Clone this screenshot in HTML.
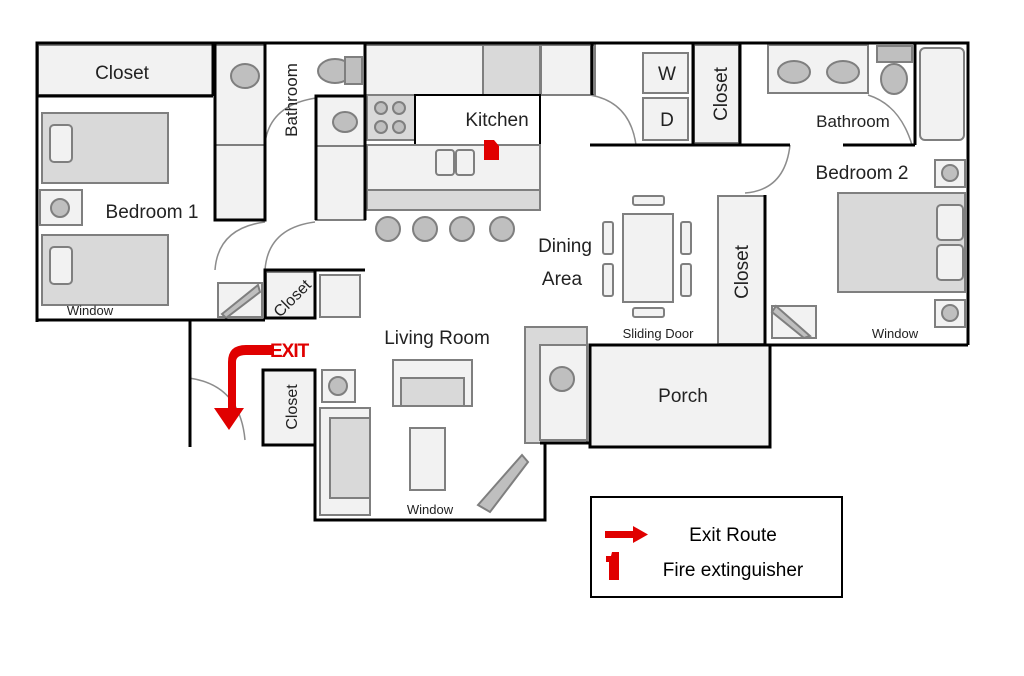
<!DOCTYPE html>
<html><head><meta charset="utf-8"><style>
body{margin:0;background:#fff;}
svg{display:block;font-family:"Liberation Sans",sans-serif;}
</style></head><body>
<svg width="1024" height="676" viewBox="0 0 1024 676" xmlns="http://www.w3.org/2000/svg">
<g stroke="#7f7f7f" stroke-width="2" fill="#f2f2f2">
 <!-- top-left closet -->
 <rect x="38" y="45" width="175" height="50"/>
 <!-- bathroom 1 -->
 <rect x="215" y="45" width="50" height="100"/>
 <rect x="215" y="145" width="50" height="75"/>
 <rect x="316" y="96" width="49" height="50"/>
 <rect x="316" y="146" width="49" height="74"/>
 <!-- kitchen -->
 <rect x="365" y="45" width="230" height="50"/>
 <rect x="483" y="45" width="57" height="50" fill="#d9d9d9"/>
 <rect x="541" y="45" width="50" height="50"/>
 <rect x="367" y="95" width="48" height="45" fill="#d9d9d9"/>
 <rect x="415" y="95" width="125" height="50" fill="#fff" stroke="#000"/>
 <rect x="367" y="145" width="173" height="45"/>
 <rect x="367" y="190" width="173" height="20" fill="#d9d9d9"/>
 <rect x="436" y="150" width="18" height="25" rx="3"/>
 <rect x="456" y="150" width="18" height="25" rx="3"/>
 <!-- W D closet -->
 <rect x="643" y="53" width="45" height="40"/>
 <rect x="643" y="98" width="45" height="42"/>
 <rect x="694" y="45" width="45" height="98"/>
 <!-- bathroom 2 -->
 <rect x="768" y="45" width="100" height="48"/>
 <rect x="877" y="46" width="35" height="16" fill="#bfbfbf"/>
 <rect x="920" y="48" width="44" height="92" rx="5"/>
 <!-- bedroom 2 -->
 <rect x="935" y="160" width="30" height="27"/>
 <rect x="838" y="193" width="127" height="99" fill="#d9d9d9"/>
 <rect x="937" y="205" width="26" height="35" rx="4"/>
 <rect x="937" y="245" width="26" height="35" rx="4"/>
 <rect x="935" y="300" width="30" height="27"/>
 <rect x="718" y="196" width="47" height="148"/>
 <rect x="772" y="306" width="44" height="32"/>
 <!-- dining -->
 <rect x="623" y="214" width="50" height="88"/>
 <rect x="633" y="196" width="31" height="9" rx="2"/>
 <rect x="633" y="308" width="31" height="9" rx="2"/>
 <rect x="603" y="222" width="10" height="32" rx="2"/>
 <rect x="603" y="264" width="10" height="32" rx="2"/>
 <rect x="681" y="222" width="10" height="32" rx="2"/>
 <rect x="681" y="264" width="10" height="32" rx="2"/>
 <!-- bedroom 1 -->
 <rect x="42" y="113" width="126" height="70" fill="#d9d9d9"/>
 <rect x="50" y="125" width="22" height="37" rx="4"/>
 <rect x="40" y="190" width="42" height="35"/>
 <rect x="42" y="235" width="126" height="70" fill="#d9d9d9"/>
 <rect x="50" y="247" width="22" height="37" rx="4"/>
 <rect x="218" y="283" width="44" height="34"/>
 <rect x="266" y="272" width="49" height="46"/>
 <rect x="320" y="275" width="40" height="42"/>
 <!-- living -->
 <rect x="263" y="370" width="52" height="75"/>
 <rect x="322" y="370" width="33" height="32"/>
 <rect x="393" y="360" width="79" height="46"/>
 <rect x="401" y="378" width="63" height="28" fill="#d9d9d9"/>
 <rect x="320" y="408" width="50" height="107"/>
 <rect x="330" y="418" width="40" height="80" fill="#d9d9d9"/>
 <rect x="410" y="428" width="35" height="62"/>
 <rect x="525" y="327" width="62" height="116" fill="#d9d9d9"/>
 <rect x="540" y="345" width="47" height="95"/>
 <!-- porch -->
 <rect x="590" y="345" width="180" height="102" stroke="#000" stroke-width="3"/>
</g>
<!-- circles/fixtures -->
<g fill="#bfbfbf" stroke="#7f7f7f" stroke-width="2">
 <circle cx="388" cy="229" r="12"/><circle cx="425" cy="229" r="12"/><circle cx="462" cy="229" r="12"/><circle cx="502" cy="229" r="12"/>
 <circle cx="381" cy="108" r="6"/><circle cx="399" cy="108" r="6"/><circle cx="381" cy="127" r="6"/><circle cx="399" cy="127" r="6"/>
 <circle cx="60" cy="208" r="9"/><circle cx="950" cy="173" r="8"/><circle cx="950" cy="313" r="8"/><circle cx="338" cy="386" r="9"/>
 <ellipse cx="245" cy="76" rx="14" ry="12"/><ellipse cx="335" cy="71" rx="17" ry="12"/>
 <rect x="345" y="57" width="17" height="27"/>
 <ellipse cx="345" cy="122" rx="12" ry="10"/>
 <ellipse cx="794" cy="72" rx="16" ry="11"/><ellipse cx="843" cy="72" rx="16" ry="11"/>
 <ellipse cx="894" cy="79" rx="13" ry="15"/>
 <circle cx="562" cy="379" r="12"/>
 <path d="M222 314 L258 285 L260 292 L226 318Z"/>
 <path d="M776 306 L810 336 L804 338 L772 312Z"/>
 <path d="M478 505 L522 455 L528 462 L490 512Z"/>
</g>
<!-- door arcs -->
<g fill="none" stroke="#8c8c8c" stroke-width="1.5">
 <path d="M265 143 Q270 105 316 98"/>
 <path d="M215 270 Q218 228 265 222"/>
 <path d="M265 270 Q268 228 315 222"/>
 <path d="M636 145 Q630 102 590 95"/>
 <path d="M790 145 Q785 190 745 193"/>
 <path d="M912 145 Q900 105 868 95"/>
 <path d="M189 378 Q240 385 245 440"/>
</g>
<!-- walls -->
<g stroke="#000" stroke-width="3" fill="none">
 <path d="M37 322 V43 H968 V345"/>
 <path d="M37 320 H190 V447"/>
 <path d="M37 96 H213"/>
 <path d="M213 43 V96"/>
 <path d="M215 43 V220 H265 V43"/>
 <path d="M316 220 V96 H365 V43"/>
 <path d="M365 95 V220"/>
 <path d="M265 270 H315 V318 H265 Z"/>
 <path d="M315 270 H365"/>
 <path d="M590 145 H790 M843 145 H915"/>
 <path d="M592 43 V95 M693 43 V145 M740 43 V145 M915 43 V145"/>
 <path d="M765 195 V345 M718 345 H968"/>
 <path d="M590 345 H720"/>
 <path d="M263 370 H315 V445 H263 Z"/>
 <path d="M315 445 V520 H545 V443"/>
 <path d="M540 443 H590"/>
 <path d="M190 320 H265"/>
</g>
<!-- red items -->
<g fill="#e00000">
 <path d="M484 140 h10 l5 6 v14 h-15z"/>
 <path d="M272 345 H246 Q228 345 228 362 V408 H214 L229 430 L244 408 H236 V362 Q236 355 246 355 H272 Z"/>
 <text x="270" y="357" font-size="19" font-weight="bold" font-family="Liberation Sans Narrow,Liberation Sans,sans-serif" letter-spacing="-1">EXIT</text>
 <rect x="605" y="531" width="30" height="7"/><path d="M633 526 L648 534.5 L633 543Z"/>
 <path d="M606 556 h5 l1 -4 h7 v28 h-10 v-18 h-3z"/>
</g>
<!-- legend box -->
<rect x="591" y="497" width="251" height="100" fill="none" stroke="#000" stroke-width="2"/>
<!-- text -->
<g fill="#222" font-size="19">
 <text x="122" y="79" text-anchor="middle">Closet</text>
 <text x="152" y="218" text-anchor="middle">Bedroom 1</text>
 <text x="497" y="126" text-anchor="middle">Kitchen</text>
 <text x="565" y="252" text-anchor="middle">Dining</text>
 <text x="562" y="285" text-anchor="middle">Area</text>
 <text x="437" y="344" text-anchor="middle">Living Room</text>
 <text x="683" y="402" text-anchor="middle">Porch</text>
 <text x="862" y="179" text-anchor="middle">Bedroom 2</text>
 <text x="667" y="80" text-anchor="middle">W</text>
 <text x="667" y="126" text-anchor="middle">D</text>
 <text transform="translate(727 94) rotate(-90)" text-anchor="middle">Closet</text>
 <text transform="translate(748 272) rotate(-90)" text-anchor="middle">Closet</text>
 <text font-size="17" transform="translate(297 100) rotate(-90)" text-anchor="middle">Bathroom</text>
 <text font-size="17" x="853" y="127" text-anchor="middle">Bathroom</text>
 <text font-size="16" transform="translate(297 407) rotate(-90)" text-anchor="middle">Closet</text>
 <text font-size="16" transform="translate(296 302) rotate(-45)" text-anchor="middle">Closet</text>
 <text font-size="13" x="90" y="315" text-anchor="middle">Window</text>
 <text font-size="13" x="895" y="338" text-anchor="middle">Window</text>
 <text font-size="13" x="430" y="514" text-anchor="middle">Window</text>
 <text font-size="13" x="658" y="338" text-anchor="middle">Sliding Door</text>
 <text x="733" y="541" text-anchor="middle" fill="#000">Exit Route</text>
 <text x="733" y="576" text-anchor="middle" fill="#000">Fire extinguisher</text>
</g>
</svg>
</body></html>
